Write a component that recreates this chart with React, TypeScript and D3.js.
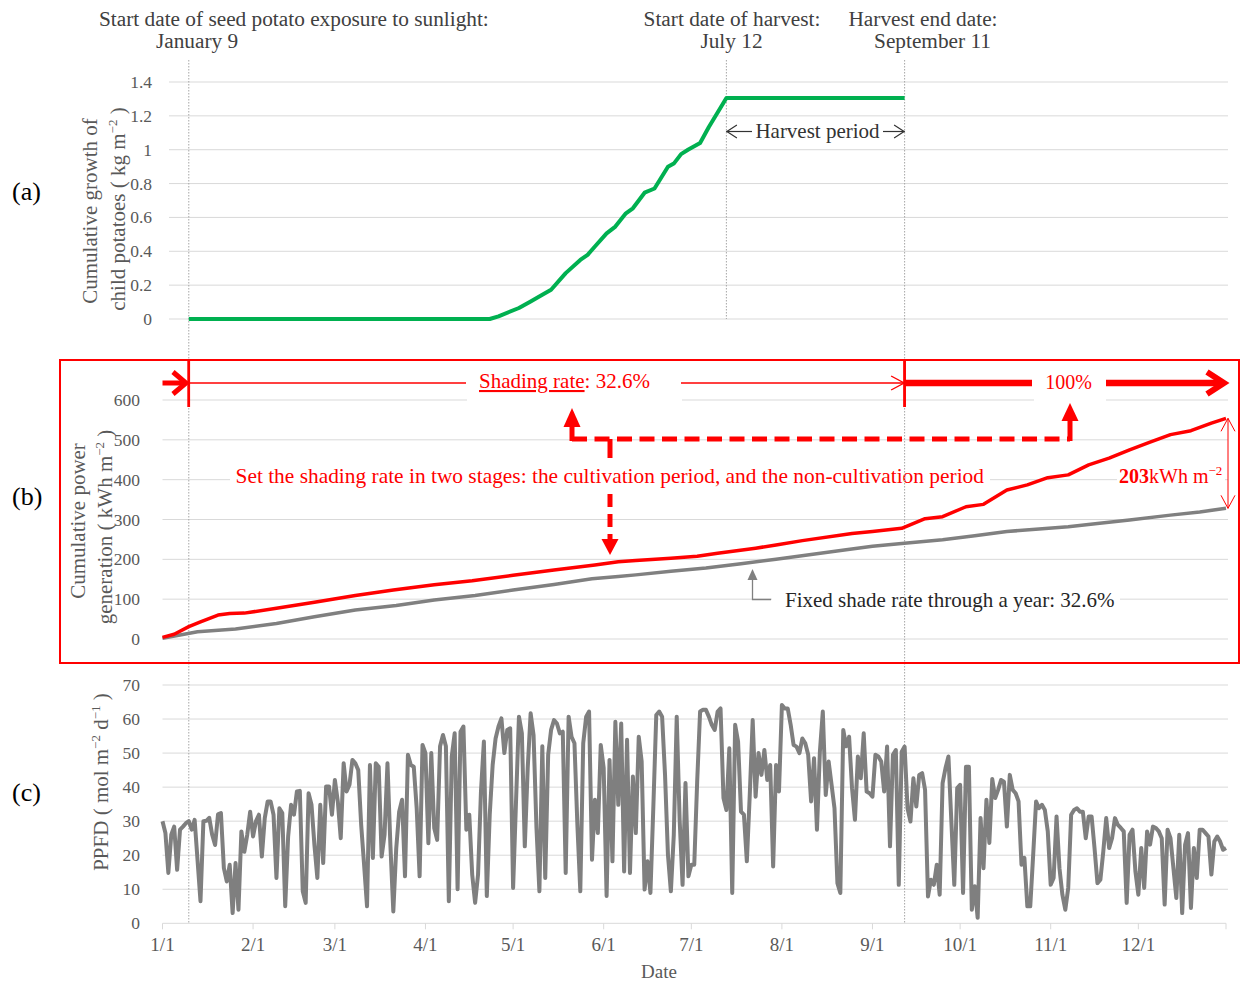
import React from "react";
import * as d3 from "d3";

// ---------- data ----------
// days are counted from Jan 1 (day 0)
const monthStartDays = [0, 31, 59, 90, 120, 151, 181, 212, 243, 273, 304, 334];
const monthLabels = ["1/1", "2/1", "3/1", "4/1", "5/1", "6/1", "7/1", "8/1", "9/1", "10/1", "11/1", "12/1"];
const lastDay = 364;

const growthTicks = [0, 0.2, 0.4, 0.6, 0.8, 1, 1.2, 1.4];
const powerTicks = [0, 100, 200, 300, 400, 500, 600];
const ppfdTicks = [0, 10, 20, 30, 40, 50, 60, 70];

const exposureStartDay = 9;
const harvestStartDay = 193;
const harvestEndDay = 254;

// cumulative growth of child potatoes (kg m-2)
const growth: [number, number][] = [
  [9, 0], [112, 0], [115, 0.016], [122, 0.065], [126, 0.104], [130, 0.143], [133, 0.173],
  [138, 0.271], [143, 0.349], [145.5, 0.379], [148, 0.428], [152, 0.506], [155, 0.546],
  [158.6, 0.624], [161, 0.654], [165, 0.746], [168.4, 0.771], [173, 0.899], [175, 0.918],
  [177.5, 0.974], [180, 1.001], [184, 1.04], [187, 1.134], [193, 1.305], [254, 1.305],
];

// cumulative power generation (kWh m-2), two-stage shading
const powerTwoStage: [number, number][] = [
  [0, 4], [4, 12], [9, 31], [13, 43], [19, 60], [23, 64], [28, 65], [39, 77], [52, 92],
  [66, 109], [79, 123], [93, 136], [106, 146], [120, 160], [134, 173], [148, 186], [156, 194],
  [162, 197], [174, 203], [183, 208], [190, 215], [203, 228], [210, 236], [219, 247],
  [236, 265], [243, 270], [253, 278], [261, 302], [267, 307], [275, 332], [281, 338],
  [289, 374], [296, 387], [303, 405], [310, 412], [317, 437], [324, 454], [331, 475],
  [338, 494], [345, 513], [352, 523], [359, 542], [364, 554],
];

// cumulative power generation (kWh m-2), fixed 32.6 % shading
const powerFixed: [number, number][] = [
  [0, 2], [12, 18], [25, 25], [39, 39], [52, 56], [66, 73], [80, 84], [93, 98], [107, 109],
  [120, 123], [134, 137], [147, 151], [156, 157], [162, 161], [174, 170], [186, 178],
  [198, 189], [210, 200], [222, 212], [234, 224], [243, 233], [253, 240], [267, 249],
  [278, 259], [289, 270], [300, 276], [310, 282], [320, 290], [331, 299], [345, 311],
  [355, 319], [364, 328],
];

// daily PPFD (mol m-2 d-1)
const ppfd: [number, number][] = [
  [0, 30], [1, 26.5], [2, 14.8], [3, 26], [4, 28.4], [5, 15.7], [6, 27.5], [7, 28.4], [8, 29.4],
  [9, 30], [10, 27.5], [11, 30.4], [13, 6.5], [14, 30], [15, 30.1], [16, 31], [17, 26], [18, 23],
  [19, 32], [20, 32.4], [21, 16.2], [22, 12.3], [23, 17.2], [24, 3], [25, 17.7], [26, 4], [27, 27],
  [28, 21], [29, 26], [30, 32.8], [31, 25.5], [32, 30], [33, 31.9], [34, 19.6], [35, 30.9],
  [36, 35.8], [37, 35.8], [38, 31.9], [39, 13.3], [40, 33.8], [41, 32.4], [42, 5], [43, 25.5],
  [44, 34.8], [45, 31.9], [46, 38.7], [47, 38.9], [48, 9.4], [49, 6], [50, 38.2], [51, 34.8],
  [52, 23], [53, 13.3], [54, 34.8], [55, 17.7], [56, 40.2], [57, 40.2], [58, 31.9], [59, 42.1],
  [60, 35.8], [61, 25], [62, 47], [63, 38.7], [64, 40.7], [65, 48], [66, 47], [67, 45], [68, 28.9],
  [69, 17.2], [70, 5], [71, 46.5], [72, 19.2], [73, 47], [74, 46], [75, 19.6], [76, 26], [77, 47],
  [78, 23], [79, 3.5], [80, 22], [81, 32.8], [82, 36.3], [83, 13.8], [84, 49.5], [85, 46.5],
  [86, 46], [87, 33.8], [88, 13.8], [89, 52.4], [90, 50], [91, 23.5], [92, 50], [93, 28],
  [94, 24.5], [95, 52], [96, 55.3], [97, 52], [98, 6.5], [99, 49], [100, 55.8], [101, 10],
  [102, 56.3], [103, 57.8], [104, 27.5], [105, 31.9], [106, 14.3], [107, 6], [108, 14.3],
  [109, 38.7], [110, 53.4], [111, 8], [112, 31.9], [113, 46.5], [114, 54.3], [115, 57.8],
  [116, 60.2], [117, 50], [118, 56.8], [119, 57.3], [120, 10.4], [121, 35.8], [122, 60.7],
  [123, 55.8], [124, 22.6], [125, 45.6], [126, 61.7], [127, 55.3], [128, 28], [129, 9.4],
  [130, 52], [131, 13.3], [132, 49.5], [133, 56.8], [134, 59.7], [135, 58.7], [136, 55.8],
  [137, 56.3], [138, 14.8], [139, 60.7], [140, 54.8], [141, 52.9], [142, 28.9], [143, 9.4],
  [144, 52.9], [145, 60.7], [146, 62.2], [147, 18.7], [148, 36.3], [149, 26.5], [150, 52.4],
  [151, 45.6], [152, 8], [153, 48], [154, 18.2], [155, 59.2], [156, 34.8], [157, 58.7],
  [158, 15.2], [159, 53.9], [160, 14.8], [161, 43.1], [162, 26.5], [163, 54.8], [164, 47.5],
  [165, 9.9], [166, 18.2], [167, 8.9], [168, 34.3], [169, 61.2], [170, 62.2], [171, 60.7],
  [172, 43.6], [173, 20.1], [174, 9.4], [175, 26], [176, 60.7], [177, 30.4], [178, 11.3],
  [179, 41.2], [180, 13.8], [181, 17.2], [182, 17.2], [183, 41.6], [184, 62.2], [185, 62.7],
  [186, 62.7], [187, 60.7], [188, 58.3], [189, 56.8], [190, 62.2], [191, 63.1], [192, 36.8],
  [193, 33.3], [194, 51.4], [195, 8.9], [196, 58.3], [197, 53.4], [198, 32.8], [199, 31.9],
  [200, 18.2], [201, 37.7], [202, 59.7], [203, 37.2], [204, 50], [205, 43.6], [206, 50.9],
  [207, 42.1], [208, 46.5], [209, 16.7], [210, 46.5], [211, 38.7], [212, 64.1], [213, 63.1],
  [214, 63.1], [215, 58.3], [216, 52.4], [217, 51.9], [218, 50], [219, 54.3], [220, 52.9],
  [221, 49.5], [222, 35.8], [223, 48.5], [224, 27.5], [225, 50.4], [226, 62.2], [227, 37.7],
  [228, 47.5], [229, 40.7], [230, 33.8], [231, 11.8], [232, 8.9], [233, 56.8], [234, 52],
  [235, 54.8], [236, 39.7], [237, 30.4], [238, 49], [239, 42.6], [240, 55.8], [241, 38.7],
  [242, 38.2], [243, 37.2], [244, 49.5], [245, 49], [246, 47.5], [247, 38.7], [248, 51.9],
  [249, 22.6], [250, 49.5], [251, 50.9], [252, 11.3], [253, 50.4], [254, 51.9], [255, 33.8],
  [256, 29.9], [257, 42.6], [258, 34.3], [259, 43.6], [260, 44.1], [261, 39.2], [262, 7.9],
  [263, 12.8], [264, 11.3], [265, 17.2], [266, 8.4], [267, 41.2], [268, 45.6], [269, 49],
  [270, 29.9], [271, 11.3], [272, 39.7], [273, 40.7], [274, 8.9], [275, 46], [276, 46],
  [277, 4], [278, 10.9], [279, 1.6], [280, 30.9], [281, 16.2], [282, 36.3], [283, 23.6],
  [284, 42.4], [285, 36.8], [286, 39.2], [287, 42.1], [288, 41.6], [289, 28.4], [290, 43.6],
  [291, 39.2], [292, 38.2], [293, 35.8], [294, 17.2], [295, 19.2], [296, 5], [297, 5],
  [298, 20.1], [299, 35.8], [300, 33.8], [301, 34.8], [302, 33.3], [303, 27], [304, 11.3],
  [305, 13.3], [306, 31.4], [307, 16.2], [308, 8.4], [309, 4], [310, 10.4], [311, 31.9],
  [312, 33.3], [313, 33.8], [314, 32.8], [315, 32.8], [316, 25], [317, 31.4], [318, 31.4],
  [319, 22.1], [320, 11.8], [321, 12.8], [322, 21.1], [323, 30.9], [324, 22.1], [325, 25],
  [326, 30.9], [327, 28.9], [328, 28], [329, 27], [330, 6], [331, 26], [332, 27.5], [333, 15.2],
  [334, 8.4], [335, 22.1], [336, 10.4], [337, 27], [338, 23.1], [339, 28.4], [340, 28], [341, 27],
  [342, 25], [343, 5.5], [344, 27.5], [345, 25], [346, 16.2], [347, 7.4], [348, 26], [349, 3],
  [350, 23.1], [351, 26.5], [352, 4.5], [353, 22.1], [354, 13.3], [355, 27.5], [356, 27.5],
  [357, 26.5], [358, 25.5], [359, 14.3], [360, 24], [361, 25.5], [362, 24], [363, 21.6],
  [364, 22.1],
];

// ---------- styling ----------
const FONT = "'Liberation Serif', 'Times New Roman', serif";
const RED = "#ff0000";
const GRID = "#d9d9d9";
const TICK_TEXT = "#595959";
const NOTE_TEXT = "#404040";

type Pt = [number, number];

function Chevron({ tip, dir, len, half, color, width }: { tip: Pt; dir: string; len: number; half: number; color: string; width: number }) {
  const [tx, ty] = tip;
  let pts: Pt[] = [];
  if (dir === "right") pts = [[tx - len, ty - half], [tx, ty], [tx - len, ty + half]];
  if (dir === "left") pts = [[tx + len, ty - half], [tx, ty], [tx + len, ty + half]];
  if (dir === "up") pts = [[tx - half, ty + len], [tx, ty], [tx + half, ty + len]];
  if (dir === "down") pts = [[tx - half, ty - len], [tx, ty], [tx + half, ty - len]];
  return (
    <polyline points={pts.map((p) => p.join(",")).join(" ")} fill="none" stroke={color}
      strokeWidth={width} strokeLinejoin="miter" strokeLinecap="butt" />
  );
}

function Head({ tip, dir, len, half, color }: { tip: Pt; dir: string; len: number; half: number; color: string }) {
  const [tx, ty] = tip;
  let pts: Pt[] = [];
  if (dir === "up") pts = [[tx - half, ty + len], [tx, ty], [tx + half, ty + len]];
  if (dir === "down") pts = [[tx - half, ty - len], [tx, ty], [tx + half, ty - len]];
  return <polygon points={pts.map((p) => p.join(",")).join(" ")} fill={color} />;
}

export default function App() {
  const W = 1241;
  const H = 981;

  const x = d3.scaleLinear().domain([0, lastDay]).range([162.5, 1226]);
  const ya = d3.scaleLinear().domain([0, 1.4]).range([319, 82]);
  const yb = d3.scaleLinear().domain([0, 600]).range([639, 400]);
  const yc = d3.scaleLinear().domain([0, 70]).range([923.3, 685]);

  const lineA = d3.line<Pt>().x((d) => x(d[0])).y((d) => ya(d[1]));
  const lineB = d3.line<Pt>().x((d) => x(d[0])).y((d) => yb(d[1]));
  const lineC = d3.line<Pt>().x((d) => x(d[0])).y((d) => yc(d[1]));

  const gridRight = 1228;
  const xExp = x(exposureStartDay);
  const xHs = x(harvestStartDay);
  const xHe = x(harvestEndDay);
  const rowY = 383;
  const dashY = 439;
  const redEnd = powerTwoStage[powerTwoStage.length - 1][1];
  const grayEnd = powerFixed[powerFixed.length - 1][1];

  return (
    <svg width={W} height={H} viewBox={`0 0 ${W} ${H}`}
      style={{ position: "absolute", left: 0, top: 0, display: "block", background: "#fff" }}
      fontFamily={FONT}>
      <rect x={0} y={0} width={W} height={H} fill="#fff" />

      {/* ---------- panel (a) grid ---------- */}
      {growthTicks.map((t) => (
        <g key={`ga${t}`}>
          <line x1={169} x2={gridRight} y1={ya(t)} y2={ya(t)} stroke={GRID} strokeWidth={1} />
          <text x={152} y={ya(t) + 6} textAnchor="end" fontSize={17.5} fill={TICK_TEXT}>{String(+t.toFixed(1))}</text>
        </g>
      ))}

      {/* ---------- panel (b) grid ---------- */}
      {powerTicks.map((t) => (
        <g key={`gb${t}`}>
          <line x1={162.5} x2={gridRight} y1={yb(t)} y2={yb(t)} stroke={GRID} strokeWidth={1} />
          <text x={140} y={yb(t) + 6} textAnchor="end" fontSize={17.5} fill={TICK_TEXT}>{t}</text>
        </g>
      ))}

      {/* ---------- panel (c) grid + date axis ---------- */}
      {ppfdTicks.map((t) => (
        <g key={`gc${t}`}>
          <line x1={162.5} x2={t === 0 ? x(lastDay) : gridRight} y1={yc(t)} y2={yc(t)} stroke={GRID} strokeWidth={1} />
          <text x={140} y={yc(t) + 6} textAnchor="end" fontSize={17.5} fill={TICK_TEXT}>{t}</text>
        </g>
      ))}
      {[...monthStartDays, lastDay].map((d) => (
        <line key={`tk${d}`} x1={x(d)} x2={x(d)} y1={yc(0)} y2={yc(0) + 6} stroke={GRID} strokeWidth={1} />
      ))}
      {monthStartDays.map((d, i) => (
        <text key={`ml${d}`} x={x(d)} y={951} textAnchor="middle" fontSize={19} fill={TICK_TEXT}>{monthLabels[i]}</text>
      ))}
      <text x={659} y={978} textAnchor="middle" fontSize={19} fill={TICK_TEXT}>Date</text>

      {/* ---------- axis titles ---------- */}
      <g fill={TICK_TEXT} fontSize={21} textAnchor="middle">
        <text transform="translate(96.5,211) rotate(-90)">Cumulative growth of</text>
        <text transform="translate(125,209) rotate(-90)">
          child potatoes ( kg m<tspan fontSize={13} dy={-8}>−2</tspan><tspan dy={8}> )</tspan>
        </text>
        <text transform="translate(85,521) rotate(-90)">Cumulative  power</text>
        <text transform="translate(111.5,527) rotate(-90)">
          generation ( kWh m<tspan fontSize={13} dy={-8}>−2</tspan><tspan dy={8}> )</tspan>
        </text>
        <text transform="translate(108,782) rotate(-90)">
          PPFD ( mol m<tspan fontSize={13} dy={-8}>−2</tspan><tspan dy={8}> d</tspan><tspan fontSize={13} dy={-8}>−1</tspan><tspan dy={8}> )</tspan>
        </text>
      </g>

      {/* ---------- panel labels ---------- */}
      <g fontSize={26} fill="#000">
        <text x={12} y={200}>(a)</text>
        <text x={12} y={505}>(b)</text>
        <text x={12} y={801}>(c)</text>
      </g>

      {/* ---------- panel (b) annotation boxes ---------- */}
      <g fill="#fff">
        <rect x={467} y={366} width={215} height={37} />
        <rect x={1034} y={366} width={72} height={37} />
        <rect x={230} y={459} width={760} height={33} />
        <rect x={1117} y={461} width={108} height={31} />
        <rect x={772} y={588} width={348} height={24} />
      </g>

      {/* shading-rate row */}
      <g stroke={RED} fill="none">
        <line x1={162.5} x2={183} y1={rowY} y2={rowY} strokeWidth={5} />
        <Chevron tip={[186, rowY]} dir="right" len={13} half={11} color={RED} width={5} />
        <line x1={xExp} x2={xExp} y1={360} y2={407} strokeWidth={2.5} />
        <line x1={xExp} x2={466} y1={rowY} y2={rowY} strokeWidth={1.4} />
        <line x1={681} x2={xHe} y1={rowY} y2={rowY} strokeWidth={1.4} />
        <Chevron tip={[xHe - 0.5, rowY]} dir="right" len={13} half={7} color={RED} width={1.4} />
        <line x1={xHe} x2={xHe} y1={360} y2={407} strokeWidth={2.5} />
        <line x1={xHe} x2={1032} y1={rowY} y2={rowY} strokeWidth={6.5} />
        <line x1={1106} x2={1219} y1={rowY} y2={rowY} strokeWidth={6.5} />
        <Chevron tip={[1224, rowY]} dir="right" len={17} half={11} color={RED} width={6} />
      </g>
      <text x={479} y={388} fontSize={21} fill={RED}>
        <tspan textDecoration="underline">Shading rate</tspan>: 32.6%
      </text>
      <text x={1068.5} y={389} fontSize={20} fill={RED} textAnchor="middle">100%</text>

      {/* dashed stage arrows */}
      <g stroke={RED} strokeWidth={5} fill="none" strokeDasharray="15 7.5">
        <line x1={572} x2={572} y1={dashY + 2} y2={426} strokeDasharray="none" />
        <line x1={572} x2={1070} y1={dashY} y2={dashY} />
        <line x1={1070} x2={1070} y1={dashY + 2} y2={419} strokeDasharray="none" />
        <line x1={610} x2={610} y1={dashY} y2={458} strokeDasharray="none" />
        <line x1={610} x2={610} y1={494} y2={541} strokeDasharray="13 7" />
      </g>
      <Head tip={[572, 408]} dir="up" len={19} half={8.5} color={RED} />
      <Head tip={[1070, 403]} dir="up" len={18} half={8.5} color={RED} />
      <Head tip={[610, 555]} dir="down" len={16} half={8.5} color={RED} />

      <text x={235.5} y={483} fontSize={21.4} fill={RED}>
        Set the shading rate in two stages: the cultivation period, and the non-cultivation period
      </text>

      {/* difference at year end */}
      <g stroke={RED} strokeWidth={1} fill="none">
        <line x1={1228} x2={1228} y1={yb(redEnd)} y2={yb(grayEnd)} />
        <Chevron tip={[1228, yb(redEnd)]} dir="up" len={13} half={7} color={RED} width={1} />
        <Chevron tip={[1228, yb(grayEnd)]} dir="down" len={13} half={7} color={RED} width={1} />
      </g>
      <text x={1119} y={483} fontSize={20} fill={RED}>
        <tspan fontWeight="bold">203</tspan>kWh m<tspan fontSize={13} dy={-8}>−2</tspan>
      </text>

      {/* fixed shade label */}
      <g stroke="#808080" strokeWidth={1.3} fill="none">
        <polyline points={`752.5,580 752.5,599.5 771,599.5`} />
      </g>
      <Head tip={[752.5, 569]} dir="up" len={11} half={5} color="#808080" />
      <text x={785} y={607} fontSize={21} fill="#262626">Fixed shade rate through a year: 32.6%</text>

      {/* ---------- event markers ---------- */}
      <g stroke="#a6a6a6" strokeWidth={1} strokeDasharray="1.5 1.5">
        <line x1={xExp} x2={xExp} y1={60} y2={923} />
        <line x1={xHs} x2={xHs} y1={60} y2={319} />
        <line x1={xHe} x2={xHe} y1={60} y2={923} />
      </g>
      {/* solid red markers drawn over the dotted guides */}
      <g stroke={RED} strokeWidth={2.5}>
        <line x1={xExp} x2={xExp} y1={360} y2={407} />
        <line x1={xHe} x2={xHe} y1={360} y2={407} />
      </g>

      {/* harvest period */}
      <g stroke="#333" strokeWidth={1.2} fill="none">
        <line x1={xHs} x2={752} y1={131.5} y2={131.5} />
        <line x1={883} x2={xHe} y1={131.5} y2={131.5} />
        <Chevron tip={[xHs + 0.5, 131.5]} dir="left" len={10} half={6.5} color="#333" width={1.2} />
        <Chevron tip={[xHe - 0.5, 131.5]} dir="right" len={10} half={6.5} color="#333" width={1.2} />
      </g>
      <text x={817.5} y={138} fontSize={21} fill="#333" textAnchor="middle">Harvest period</text>

      {/* ---------- data lines ---------- */}
      <path d={lineA(growth) ?? ""} fill="none" stroke="#00b050" strokeWidth={4} strokeLinejoin="round" />
      <path d={lineB(powerFixed) ?? ""} fill="none" stroke="#808080" strokeWidth={3.5} strokeLinejoin="round" />
      <path d={lineB(powerTwoStage) ?? ""} fill="none" stroke={RED} strokeWidth={3.5} strokeLinejoin="round" />
      <path d={lineC(ppfd) ?? ""} fill="none" stroke="#7f7f7f" strokeWidth={4} strokeLinejoin="round" />

      {/* panel (b) frame */}
      <rect x={60} y={360} width={1179} height={303} fill="none" stroke={RED} strokeWidth={2} />

      {/* ---------- top notes ---------- */}
      <g fontSize={21.3} fill={NOTE_TEXT}>
        <text x={99} y={26}>Start date of seed potato exposure to sunlight:</text>
        <text x={197} y={48} textAnchor="middle">January 9</text>
        <text x={732} y={26} textAnchor="middle">Start date of harvest:</text>
        <text x={731.5} y={48} textAnchor="middle">July 12</text>
        <text x={923} y={26} textAnchor="middle">Harvest end date:</text>
        <text x={932.5} y={48} textAnchor="middle">September 11</text>
      </g>
    </svg>
  );
}
